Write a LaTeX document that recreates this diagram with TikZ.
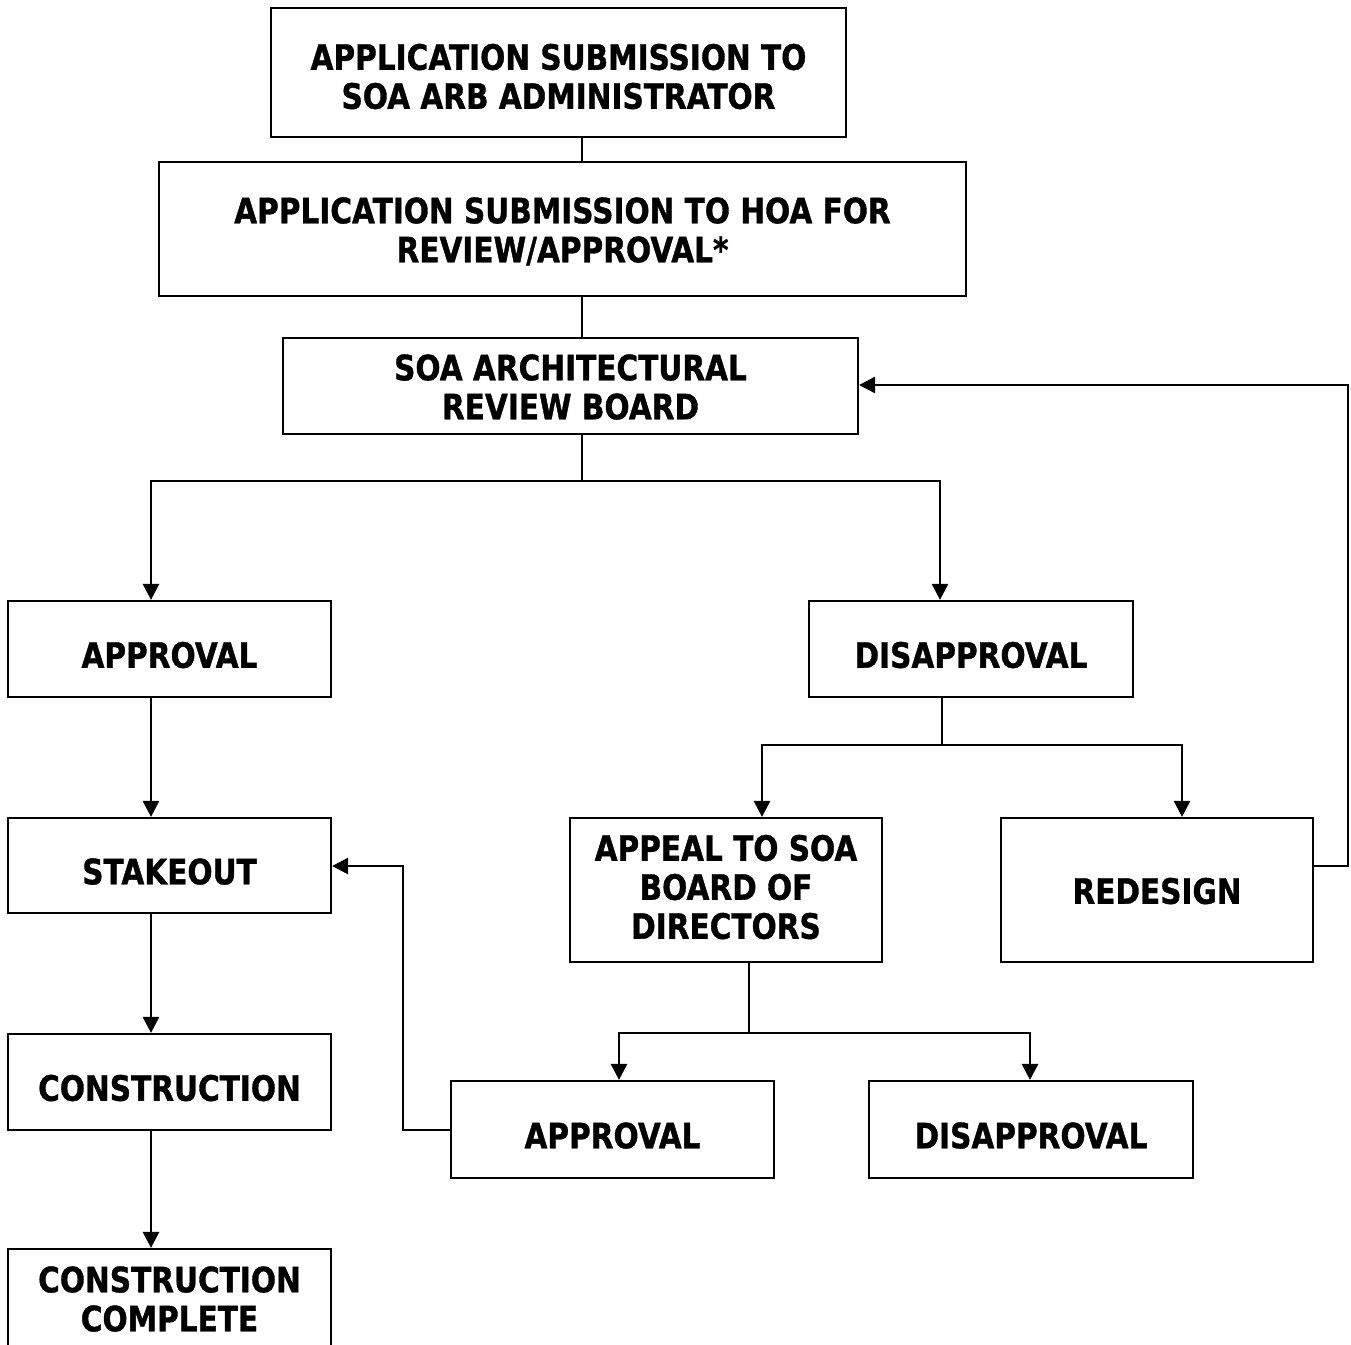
\documentclass[tikz,border=0pt]{standalone}
\usepackage{fontspec}
\setmainfont[FakeStretch=0.845,FakeBold=1]{DejaVu Sans}
\usetikzlibrary{arrows.meta}
\newcommand\bxt[2][0pt]{\raisebox{\dimexpr-6pt-#1\relax}[\height][\depth]{\begin{tabular}{@{}c@{}}#2\end{tabular}}}
\begin{document}
\begin{tikzpicture}[x=1pt,y=-1pt,
  box/.style={draw,line width=2.2pt,inner sep=0pt,
    font=\fontsize{35}{39}\selectfont\bfseries},
  conn/.style={line width=2.8pt},
  arr/.style={line width=2.8pt,-{Triangle[length=16pt,width=16pt]}}]
\useasboundingbox (0,0) rectangle (1351,1344);
\clip (0,0) rectangle (1351,1344);
\node[box,minimum width=575pt,minimum height=129pt] (b1) at (558.5,72.5) {\bxt[3pt]{APPLICATION SUBMISSION TO\\SOA ARB ADMINISTRATOR}};
\node[box,minimum width=807pt,minimum height=134pt] (b2) at (562.5,229) {\bxt{APPLICATION SUBMISSION TO HOA FOR\\REVIEW/APPROVAL*}};
\node[box,minimum width=575pt,minimum height=96pt] (b3) at (570.5,386) {\bxt{SOA ARCHITECTURAL\\REVIEW BOARD}};
\node[box,minimum width=323pt,minimum height=96pt] (ap) at (169.5,649) {\bxt[5pt]{APPROVAL}};
\node[box,minimum width=324pt,minimum height=96pt] (dis) at (971,649) {\bxt[5pt]{DISAPPROVAL}};
\node[box,minimum width=323pt,minimum height=95pt] (stake) at (169.5,865.5) {\bxt[5pt]{STAKEOUT}};
\node[box,minimum width=323pt,minimum height=96pt] (cons) at (169.5,1082) {\bxt[5pt]{CONSTRUCTION}};
\node[box,minimum width=323pt,minimum height=104pt] (comp) at (169.5,1301) {\bxt[-3pt]{CONSTRUCTION\\COMPLETE}};
\node[box,minimum width=312pt,minimum height=144pt] (appeal) at (726,890) {\bxt[-4pt]{APPEAL TO SOA\\BOARD OF\\DIRECTORS}};
\node[box,minimum width=312pt,minimum height=144pt] (redes) at (1157,890) {\bxt{REDESIGN}};
\node[box,minimum width=323pt,minimum height=97pt] (ap2) at (612.5,1129.5) {\bxt[5pt]{APPROVAL}};
\node[box,minimum width=324pt,minimum height=97pt] (dis2) at (1031,1129.5) {\bxt[5pt]{DISAPPROVAL}};
% trunk
\coordinate (tx) at (582,0);
\draw[conn] (b1.south -| tx) -- (b2.north -| tx);
\draw[conn] (b2.south -| tx) -- (b3.north -| tx);
\coordinate (j1) at (582,481);
\coordinate (j1l) at (151,481);
\coordinate (j1r) at (940,481);
\draw[conn] (b3.south -| j1) -- (j1);
\draw[arr] (j1) -- (j1l) -- (ap.north -| j1l);
\draw[arr] (j1) -- (j1r) -- (dis.north -| j1r);
% left column
\coordinate (lx) at (151,0);
\draw[arr] (ap.south -| lx) -- (stake.north -| lx);
\draw[arr] (stake.south -| lx) -- (cons.north -| lx);
\draw[arr] (cons.south -| lx) -- (comp.north -| lx);
% disapproval split
\coordinate (j2) at (942,745);
\coordinate (j2l) at (762,745);
\coordinate (j2r) at (1182,745);
\draw[conn] (dis.south -| j2) -- (j2);
\draw[arr] (j2) -- (j2l) -- (appeal.north -| j2l);
\draw[arr] (j2) -- (j2r) -- (redes.north -| j2r);
% redesign loop
\coordinate (r1) at (1348,866);
\coordinate (r2) at (1348,385);
\draw[arr] (redes.east |- r1) -- (r1) -- (r2) -- (b3.east |- r2);
% appeal split
\coordinate (j3) at (749,1033);
\coordinate (j3l) at (619,1033);
\coordinate (j3r) at (1030,1033);
\draw[conn] (appeal.south -| j3) -- (j3);
\draw[arr] (j3) -- (j3l) -- (ap2.north -| j3l);
\draw[arr] (j3) -- (j3r) -- (dis2.north -| j3r);
% approval loop
\coordinate (s1) at (403,1130);
\coordinate (s2) at (403,866);
\draw[arr] (ap2.west |- s1) -- (s1) -- (s2) -- (stake.east |- s2);
\end{tikzpicture}
\end{document}
